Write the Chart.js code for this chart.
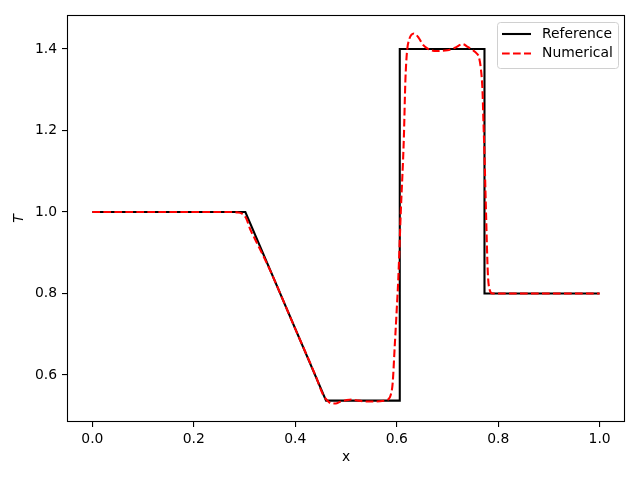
<!DOCTYPE html>
<html>
<head>
<meta charset="utf-8">
<script src="https://cdn.jsdelivr.net/npm/chart.js@4.4.1/dist/chart.umd.min.js"></script>
<style>
  body { margin: 0; background: #fff; }
</style>
</head>
<body>
<canvas id="tChart" width="640" height="480"></canvas>
<script>
// exact solution
const refX = [0.0, 0.3016, 0.4607, 0.606, 0.606, 0.773, 0.773, 1.0];
const refT = [1.0, 1.0, 0.537, 0.537, 1.4, 1.4, 0.8, 0.8];

// numerical solution
const numX = [0.0, 0.1, 0.2, 0.27, 0.285, 0.295, 0.303, 0.311, 0.32, 0.35, 0.40, 0.44, 0.455,
  0.465, 0.472, 0.48, 0.488, 0.50, 0.511, 0.52, 0.54, 0.56, 0.575, 0.583, 0.588, 0.592,
  0.596, 0.60, 0.603, 0.608, 0.614, 0.617, 0.620, 0.625, 0.634, 0.643, 0.652, 0.662,
  0.678, 0.70, 0.715, 0.73, 0.74, 0.75, 0.757, 0.762, 0.766, 0.769, 0.771, 0.773, 0.776,
  0.7796, 0.783, 0.789, 0.80, 0.9, 1.0];
const numT = [1.0, 1.0, 1.0, 1.0, 0.999, 0.996, 0.985, 0.958, 0.935, 0.858, 0.713, 0.598, 0.551,
  0.535, 0.530, 0.530, 0.534, 0.538, 0.540, 0.538, 0.535, 0.535, 0.537, 0.540, 0.55, 0.58,
  0.669, 0.76, 0.833, 1.0, 1.18, 1.32, 1.39, 1.425, 1.438, 1.428, 1.41, 1.40,
  1.395, 1.397, 1.403, 1.412, 1.405, 1.397, 1.39, 1.38, 1.35, 1.30, 1.22, 1.14, 1.0,
  0.85, 0.81, 0.80, 0.80, 0.80, 0.80];

const xTicks = [0.0, 0.2, 0.4, 0.6, 0.8, 1.0];
const yTicks = [0.6, 0.8, 1.0, 1.2, 1.4];

const fontFamily = "'DejaVu Sans', sans-serif";
const fontSize = 13.9;

function toPoints(xs, ys) {
    return xs.map(function (x, i) { return { x: x, y: ys[i] }; });
}

// box round the plot area plus a matplotlib-like legend inside it
const frameAndLegend = {
    id: 'frameAndLegend',
    afterDraw: function (chart) {
        const c = chart.ctx;
        const a = chart.chartArea;
        c.save();
        c.strokeStyle = '#000';
        c.lineWidth = 1.1;
        c.strokeRect(Math.round(a.left) + 0.5, Math.round(a.top) + 0.5,
            Math.round(a.right - a.left) - 1, Math.round(a.bottom - a.top) - 1);

        const bx = a.right - 128, by = a.top + 7, bw = 121, bh = 46;
        c.beginPath();
        c.roundRect(bx + 0.5, by + 0.5, bw, bh, 3);
        c.fillStyle = 'rgba(255,255,255,0.8)';
        c.fill();
        c.strokeStyle = '#d0d0d0';
        c.lineWidth = 1;
        c.stroke();

        c.font = fontSize + 'px ' + fontFamily;
        c.textBaseline = 'middle';
        c.fillStyle = '#000';
        chart.data.datasets.forEach(function (ds, i) {
            const yy = by + 12 + i * 19.5;
            c.beginPath();
            c.strokeStyle = ds.borderColor;
            c.lineWidth = ds.borderWidth;
            c.setLineDash(ds.borderDash || []);
            c.moveTo(bx + 5, yy);
            c.lineTo(bx + 34, yy);
            c.stroke();
            c.setLineDash([]);
            c.fillText(ds.label, bx + 45, yy);
        });
        c.restore();
    }
};

new Chart(document.getElementById('tChart'), {
    type: 'scatter',
    data: {
        datasets: [{
            label: 'Reference',
            data: toPoints(refX, refT),
            showLine: true,
            borderColor: '#000000',
            borderWidth: 2.08,
            pointRadius: 0,
            tension: 0,
            order: 1
        }, {
            label: 'Numerical',
            data: toPoints(numX, numT),
            showLine: true,
            borderColor: '#ff0000',
            borderWidth: 2.08,
            borderDash: [7.7, 3.3],
            pointRadius: 0,
            cubicInterpolationMode: 'monotone',
            order: 0
        }]
    },
    options: {
        responsive: false,
        animation: false,
        layout: { padding: { left: 0, right: 15, top: 15, bottom: 0 } },
        scales: {
            x: {
                type: 'linear',
                min: -0.05,
                max: 1.05,
                afterBuildTicks: function (s) { s.ticks = xTicks.map(function (v) { return { value: v }; }); },
                afterFit: function (s) { s.height = 58; },
                ticks: {
                    color: '#000',
                    padding: 4,
                    maxRotation: 0,
                    font: { family: fontFamily, size: fontSize },
                    callback: function (v) { return v.toFixed(1); }
                },
                grid: { drawOnChartArea: false, drawTicks: true, tickLength: 5, color: '#000', lineWidth: 1.1 },
                border: { display: false },
                title: {
                    display: true,
                    text: 'x',
                    color: '#000',
                    font: { family: fontFamily, size: fontSize },
                    padding: { top: 0, bottom: 14.5 }
                }
            },
            y: {
                min: 0.4846,
                max: 1.4834,
                afterBuildTicks: function (s) { s.ticks = yTicks.map(function (v) { return { value: v }; }); },
                afterFit: function (s) { s.width = 67; },
                ticks: {
                    color: '#000',
                    padding: 5,
                    font: { family: fontFamily, size: fontSize },
                    callback: function (v) { return v.toFixed(1); }
                },
                grid: { drawOnChartArea: false, drawTicks: true, tickLength: 5, color: '#000', lineWidth: 1.1 },
                border: { display: false },
                title: {
                    display: true,
                    text: 'T',
                    color: '#000',
                    font: { family: fontFamily, size: fontSize, style: 'italic' },
                    padding: { top: 11.5, bottom: 0 }
                }
            }
        },
        plugins: {
            legend: { display: false },
            tooltip: { enabled: false }
        }
    },
    plugins: [frameAndLegend]
});
</script>
</body>
</html>
